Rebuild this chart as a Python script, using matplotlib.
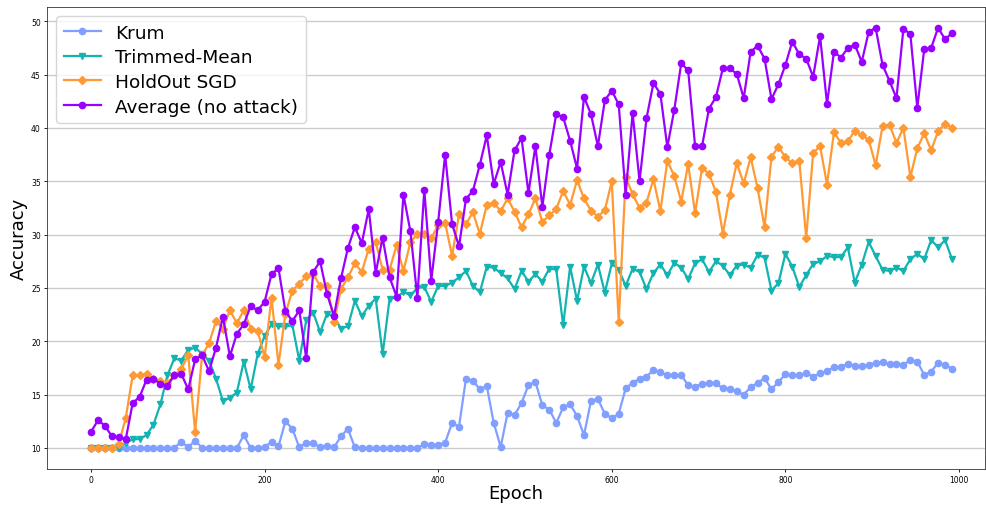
import matplotlib

matplotlib.use("Agg")
import matplotlib.pyplot as plt
import numpy as np

# evaluation every 8 epochs
epochs = np.arange(0, 1000, 8)

krum = [
    10.0, 10.0, 10.0, 10.0, 10.0, 10.0, 10.0, 10.0, 10.0, 10.0,
    10.0, 10.0, 10.0, 10.6, 10.05, 10.7, 10.0, 10.0, 10.0, 10.0,
    10.0, 10.0, 11.2, 10.0, 10.0, 10.05, 10.6, 10.15, 12.5, 11.8,
    10.05, 10.5, 10.45, 10.05, 10.2, 10.05, 11.1, 11.8, 10.05, 10.0,
    10.0, 10.0, 10.0, 10.0, 10.0, 10.0, 10.0, 10.0, 10.35, 10.3,
    10.3, 10.5, 12.35, 12.0, 16.5, 16.3, 15.5, 15.8, 12.35, 10.1,
    13.3, 13.1, 14.2, 15.9, 16.2, 14.0, 13.6, 12.35, 13.8, 14.1,
    13.0, 11.2, 14.4, 14.6, 13.2, 12.8, 13.2, 15.6, 16.1, 16.5,
    16.7, 17.3, 17.1, 16.8, 16.8, 16.8, 15.9, 15.75, 16.0, 16.05,
    16.05, 15.6, 15.55, 15.3, 15.0, 15.7, 16.1, 16.55, 15.5, 16.2,
    16.9, 16.8, 16.85, 17.0, 16.7, 17.0, 17.2, 17.6, 17.6, 17.9,
    17.7, 17.7, 17.8, 18.0, 18.05, 17.85, 17.9, 17.8, 18.25, 18.1,
    16.85, 17.15, 18.0, 17.8, 17.4,
]

trimmed_mean = [
    10.0, 10.0, 10.0, 10.0, 10.0, 10.5, 10.8, 10.85, 11.2, 12.2,
    14.1, 16.8, 18.4, 18.2, 19.2, 19.4, 18.8, 18.2, 16.5, 14.4,
    14.7, 15.2, 18.1, 15.5, 18.8, 20.5, 21.6, 21.4, 21.4, 21.5,
    18.2, 22.0, 22.7, 20.85, 22.6, 22.3, 21.2, 21.4, 23.8, 22.35,
    23.35, 24.0, 18.8, 24.0, 24.1, 24.65, 24.3, 25.0, 25.1, 23.7,
    25.2, 25.2, 25.5, 26.0, 26.6, 25.2, 24.6, 27.0, 26.9, 26.4,
    25.9, 24.9, 26.6, 25.6, 26.3, 25.6, 26.8, 26.75, 21.5, 27.0,
    23.8, 27.0, 25.45, 27.2, 24.55, 27.3, 26.7, 25.2, 26.8, 26.5,
    24.9, 26.4, 27.2, 26.2, 27.35, 26.9, 25.85, 27.3, 27.7, 26.5,
    27.5, 27.1, 26.2, 27.1, 27.2, 26.9, 28.1, 27.85, 24.75, 25.45,
    28.2, 27.0, 25.1, 26.2, 27.25, 27.5, 28.0, 27.9, 27.9, 28.8,
    25.5, 27.2, 29.3, 28.0, 26.7, 26.6, 26.9, 26.6, 27.7, 28.2,
    27.7, 29.5, 28.8, 29.5, 27.7,
]

holdout_sgd = [
    10.0, 10.0, 10.0, 10.0, 10.4, 12.8, 16.8, 16.8, 16.95, 16.5,
    16.3, 16.1, 16.8, 17.4, 18.7, 11.5, 18.7, 19.8, 21.9, 21.2,
    22.9, 21.7, 22.9, 21.2, 21.0, 18.5, 24.1, 17.8, 22.6, 24.75,
    25.4, 26.1, 26.3, 25.2, 25.2, 21.85, 24.9, 26.0, 27.3, 26.5,
    28.7, 29.3, 26.7, 26.7, 29.0, 26.6, 29.3, 30.05, 30.07, 29.66,
    30.9, 31.1, 28.0, 31.9, 31.0, 32.1, 30.07, 32.8, 33.0, 32.2,
    33.4, 32.15, 30.7, 31.9, 33.4, 31.2, 31.8, 32.4, 34.1, 32.8,
    35.1, 33.4, 32.25, 31.7, 32.3, 35.0, 21.8, 35.4, 33.8, 32.5,
    33.0, 35.2, 32.2, 36.9, 35.5, 33.1, 36.6, 32.0, 36.25, 35.7,
    34.0, 30.1, 33.7, 36.7, 34.8, 37.25, 34.35, 30.7, 37.3, 38.25,
    37.25, 36.7, 36.95, 29.7, 37.65, 38.3, 34.7, 39.6, 38.6, 38.75,
    39.75, 39.3, 38.9, 36.5, 40.2, 40.3, 38.6, 40.0, 35.4, 38.1,
    39.5, 37.9, 39.7, 40.4, 40.0,
]

average = [
    11.5, 12.6, 12.1, 11.1, 11.0, 10.8, 14.2, 14.8, 16.4, 16.5,
    16.0, 15.85, 16.8, 16.95, 15.5, 18.3, 18.7, 17.2, 19.4, 22.3,
    18.6, 20.7, 21.6, 23.3, 22.9, 23.7, 26.3, 26.85, 22.8, 21.9,
    22.9, 18.4, 26.5, 27.5, 24.4, 22.4, 25.9, 28.75, 30.7, 29.2,
    32.4, 26.4, 29.7, 26.0, 24.2, 33.75, 30.3, 24.1, 34.2, 25.7,
    31.2, 37.5, 31.0, 28.9, 33.35, 34.1, 36.56, 39.3, 34.75, 36.8,
    33.75, 37.9, 39.06, 33.9, 38.3, 32.6, 37.5, 41.3, 41.0, 38.8,
    36.2, 42.9, 41.3, 38.3, 42.6, 43.5, 42.2, 33.75, 41.4, 35.0,
    40.9, 44.2, 43.2, 38.2, 41.7, 46.06, 45.4, 38.3, 38.3, 41.8,
    42.9, 45.6, 45.6, 45.06, 42.8, 47.15, 47.7, 46.5, 42.7, 44.1,
    45.9, 48.1, 46.9, 46.5, 44.8, 48.6, 42.25, 47.15, 46.6, 47.5,
    47.8, 46.2, 49.0, 49.4, 45.9, 44.4, 42.8, 49.3, 48.8, 41.9,
    47.4, 47.5, 49.4, 48.3, 48.9,
]

series = [
    ("Krum", krum, "#809fff", "o"),
    ("Trimmed-Mean", trimmed_mean, "#12b3b0", "v"),
    ("HoldOut SGD", holdout_sgd, "#ff9933", "D"),
    ("Average (no attack)", average, "#9900ff", "o"),
]

fig = plt.figure(figsize=(9.86, 5.06), dpi=100)
ax = fig.add_axes([47 / 986, 1 - 470 / 506, 938 / 986, 462 / 506])

for label, values, color, marker in series:
    ax.plot(epochs, values, color=color, marker=marker, markersize=4.5,
            linewidth=1.6, label=label)

ax.set_xlim(-50.7, 1030)
ax.set_ylim(8.03, 51.34)
ax.grid(axis="y", color="#cccccc", linewidth=1.0)
ax.set_axisbelow(True)
ax.tick_params(labelsize=5.5, length=2.5, width=0.6, pad=2)
for s in ax.spines.values():
    s.set_linewidth(0.6)
    s.set_color("#333333")

ax.set_xlabel("Epoch", fontsize=13, labelpad=0)
ax.set_ylabel("Accuracy", fontsize=13, labelpad=2)
ax.legend(loc="upper left", fontsize=13.3, labelspacing=0.36,
          handlelength=2.0)

fig.savefig("out.png", dpi=100)
